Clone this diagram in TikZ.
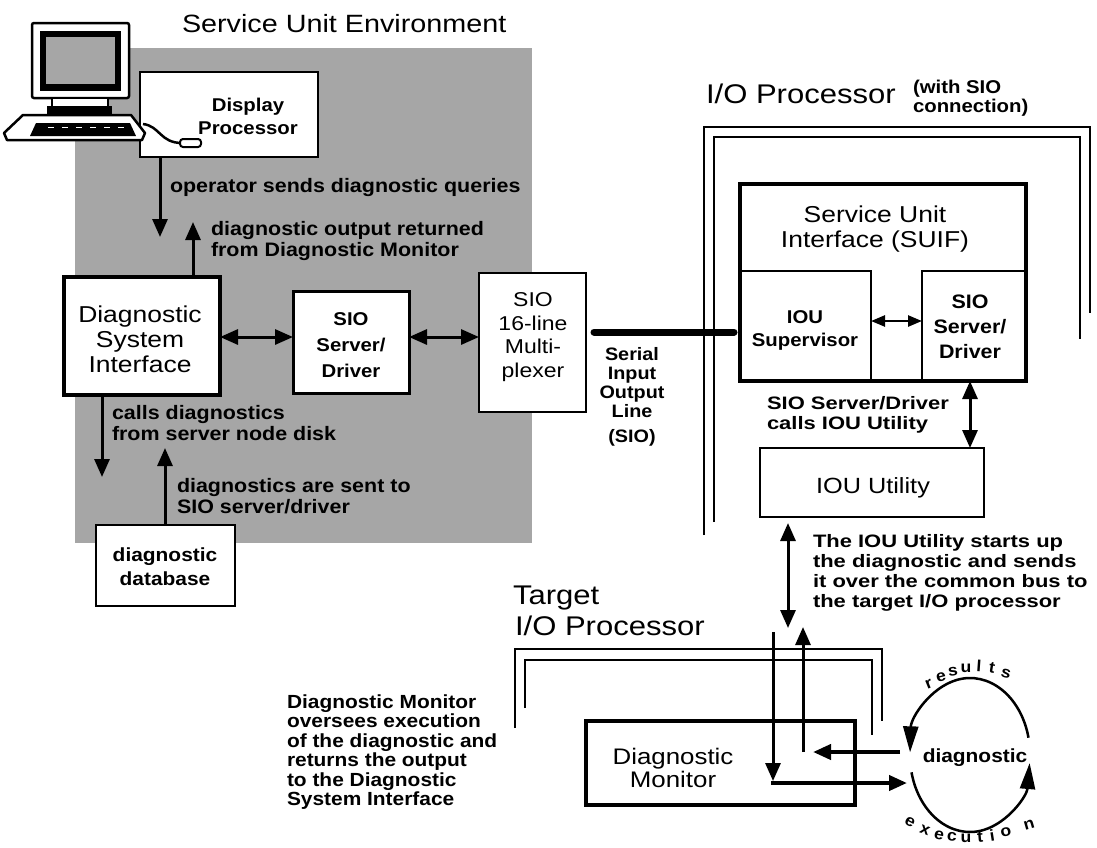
\documentclass[tikz,border=0pt]{standalone}
\usepackage{fontspec}
\setmainfont{Liberation Sans}
\newfontfamily\regfont[FakeStretch=1.15]{Liberation Sans}
\newfontfamily\bldfont[FakeStretch=1.1]{Liberation Sans}
\newfontfamily\wbldfont[FakeStretch=1.22]{Liberation Sans}
\usetikzlibrary{arrows.meta}
\newcommand\setfs[2]{\fontsize{#1pt}{#2pt}\selectfont}
\definecolor{dither}{gray}{0.65}

\tikzset{
  every node/.style={inner sep=0pt, outer sep=0pt},
  box/.style={draw, fill=white, line width=2.5pt},
  heavybox/.style={box, line width=4.5pt},
  regtxt/.style={font=\regfont\setfs{23}{25}, align=center},
  bldtxt/.style={font=\bldfont\bfseries\setfs{19}{23.5}, align=center},
  note/.style={font=\bldfont\bfseries\setfs{19.5}{20.5}, align=left, anchor=west},
  widenote/.style={font=\wbldfont\bfseries\setfs{18}{20}, align=left, anchor=west},
  onearrow/.style={line width=3pt, -{Triangle[length=18pt,width=15pt]}},
  twoarrow/.style={line width=3pt, {Triangle[length=18pt,width=15pt]}-{Triangle[length=18pt,width=15pt]}},
  smallarrow/.style={line width=2.5pt, {Triangle[length=14pt,width=11pt]}-{Triangle[length=14pt,width=11pt]}},
  wall/.style={line width=2.5pt, line join=miter},
  letter/.style={font=\bldfont\bfseries\setfs{16}{16}},
}

\begin{document}
\begin{tikzpicture}[x=1pt, y=-1pt]
\useasboundingbox (0,0) rectangle (1097,847);

% ---------- service unit environment (shaded) ----------
\fill[dither] (75,48) rectangle (532,543);
\node[font=\regfont\setfs{25}{25}, anchor=base west] (envtitle) at (182,32) {Service Unit Environment};

% workstation
\filldraw[fill=white, line width=2.5pt, rounded corners=2pt] (32,23) rectangle (129,98);
\fill[black] (40,31) rectangle (121,91);
\fill[dither] (46,37) rectangle (115,84);
\filldraw[fill=white, line width=2pt] (52,98) rectangle (108,107);
\fill[black] (47,106) rectangle (112,115);

\node[box, minimum width=178pt, minimum height=85pt] (disp) at (229,114.5) {};
\node[bldtxt, font=\bldfont\bfseries\setfs{18.5}{23}] (disp-t) at (248,116.5) {Display\\Processor};

\filldraw[fill=white, line width=2.5pt, line join=round] (23,115) -- (131,115) -- (145,133) -- (142,140) -- (7,140) -- (4,133) -- cycle;
\fill[black] (36,123) -- (130,123) -- (136,136) -- (30,136) -- cycle;
\foreach \kx in {48,62,76,90,104,118}
  \draw[white, line width=1pt] (\kx,127) -- (\kx+6,127);
\draw[line width=2.5pt] (143,124) .. controls (160,126) and (160,143) .. (182,143);
\filldraw[fill=white, line width=2pt, rounded corners=3pt] (180,139) rectangle (201,147);

% boxes in the service unit
\node[heavybox, minimum width=156pt, minimum height=118pt] (dsi) at (142,336) {};
\node[regtxt] (dsi-t) at (140,339) {Diagnostic\\System\\Interface};

\node[box, line width=3pt, minimum width=116pt, minimum height=102pt] (siol) at (351,342) {};
\node[bldtxt, font=\bldfont\bfseries\setfs{18.5}{26}] (siol-t) at (351,345) {SIO\\Server/\\Driver};

\node[box, minimum width=107pt, minimum height=139pt] (mux) at (532.5,342.5) {};
\node[regtxt, font=\regfont\setfs{20}{23.5}] (mux-t) at (533,337) {SIO\\16-line\\Multi-\\plexer};

\node[box, minimum width=139pt, minimum height=81pt] (db) at (165.5,565.5) {};
\node[bldtxt, font=\bldfont\bfseries\setfs{19}{24}] (db-t) at (165,567) {diagnostic\\database};

% arrows and notes in the service unit
\coordinate (qtip) at (160,237);
\coordinate (otip) at (193,222);
\coordinate (row) at (0,337);
\coordinate (ctip) at (102,477);
\coordinate (stip) at (165,448);
\draw[onearrow] (disp.south -| qtip) -- (qtip);
\draw[onearrow] (dsi.north -| otip) -- (otip);
\draw[twoarrow] (dsi.east |- row) -- (siol.west |- row);
\draw[twoarrow] (siol.east |- row) -- (mux.west |- row);
\draw[onearrow] (dsi.south -| ctip) -- (ctip);
\draw[onearrow] (db.north -| stip) -- (stip);

\node[note] (n-query) at (170,187) {operator sends diagnostic queries};
\node[note] (n-out) at (211,241) {diagnostic output returned\\from Diagnostic Monitor};
\node[note] (n-calls) at (112,423) {calls diagnostics\\from server node disk};
\node[note] (n-sent) at (177,496) {diagnostics are sent to\\SIO server/driver};

% ---------- I/O processor with SIO connection ----------
\node[font=\regfont\setfs{27}{27}, anchor=base west] (iotitle) at (706,103) {I/O Processor};
\node[note, font=\bldfont\bfseries\setfs{18.5}{19}] (iosub) at (913,98) {(with SIO\\connection)};
\draw[wall] (704,535) -- (704,127) -- (1090,127) -- (1090,313);
\draw[wall] (714,522) -- (714,137) -- (1080,137) -- (1080,339);

\node[heavybox, minimum width=286pt, minimum height=197pt] (suif) at (883,282.5) {};
\node[regtxt] (suif-t) at (875,229) {Service Unit\\Interface (SUIF)};
\node[box, minimum width=131pt, minimum height=110pt] (sup) at (805.5,326) {};
\node[box, minimum width=104pt, minimum height=110pt] (sior) at (974,326) {};
\draw[line width=4.5pt] (suif.south west) -- (suif.south east);
\draw[line width=4.5pt] (suif.north west) -- (suif.south west);
\draw[line width=4.5pt] (suif.north east) -- (suif.south east);
\node[bldtxt, font=\bldfont\bfseries\setfs{18.5}{23}] (sup-t) at (805,330) {IOU\\Supervisor};
\node[bldtxt, font=\bldfont\bfseries\setfs{19.5}{25}] (sior-t) at (970,327) {SIO\\Server/\\Driver};
\coordinate (row2) at (0,321);
\draw[smallarrow] (sup.east |- row2) -- (sior.west |- row2);

% serial line
\draw[line width=7pt, line cap=round] ([xshift=8pt]mux.east |- 0,332) -- ([xshift=-6pt]suif.west |- 0,332);
\node[bldtxt, font=\bldfont\bfseries\setfs{18}{19}] (serial-t) at (632,383) {Serial\\Input\\Output\\Line};
\node[bldtxt, font=\bldfont\bfseries\setfs{18}{19}] (sio-t) at (632,438) {(SIO)};

\node[box, minimum width=224pt, minimum height=69pt] (util) at (872,482.5) {};
\node[regtxt, font=\regfont\setfs{22}{22}] (util-t) at (873,488) {IOU Utility};
\coordinate (ucol) at (970,0);
\draw[twoarrow] (suif.south -| ucol) -- (util.north -| ucol);
\node[widenote] (n-util) at (767,415) {SIO Server/Driver\\calls IOU Utility};

\coordinate (bus) at (788,628);
\draw[twoarrow] ([yshift=-6pt]util.south -| bus) -- (bus);
\node[widenote] (n-bus) at (813,573) {The IOU Utility starts up\\the diagnostic and sends\\it over the common bus to\\the target I/O processor};

% ---------- target I/O processor ----------
\node[font=\regfont\setfs{27}{27}, anchor=base west] (tgt1) at (513,604) {Target};
\node[font=\regfont\setfs{27}{27}, anchor=base west] (tgt2) at (515,635) {I/O Processor};
\draw[wall] (515,728) -- (515,649) -- (882,649) -- (882,721);
\draw[wall] (525,708) -- (525,660) -- (872,660) -- (872,735);

\node[heavybox, line width=4pt, minimum width=269pt, minimum height=84pt] (mon) at (720.5,763) {};
\node[regtxt, font=\regfont\setfs{22.5}{23}] (mon-t) at (673,768) {Diagnostic\\Monitor};

\node[note, font=\bldfont\bfseries\setfs{19}{19.5}] (n-mon) at (287,752) {Diagnostic Monitor\\oversees execution\\of the diagnostic and\\returns the output\\to the Diagnostic\\System Interface};

\coordinate (dn0) at (773,632);
\coordinate (dn1) at (773,781);
\coordinate (rt0) at (771,783);
\coordinate (rt1) at (907,783);
\coordinate (up0) at (803,752);
\coordinate (up1) at (803,627);
\coordinate (lf0) at (900,752);
\coordinate (lf1) at (813,752);
\draw[onearrow] (dn0) -- (dn1);
\draw[onearrow, line width=4pt] (rt0) -- (rt1);
\draw[onearrow] (up0) -- (up1);
\draw[onearrow, line width=4pt] (lf0) -- (lf1);

% diagnostic cycle
\node[font=\bldfont\bfseries\setfs{19}{19}] (diag) at (975,758) {diagnostic};
\draw[line width=2.5pt, -{Triangle[length=26pt,width=15pt]}] (1028.5,737.7) arc[start angle=-13, end angle=-178, x radius=60, y radius=77];
\draw[line width=2.5pt, -{Triangle[length=26pt,width=15pt]}] (911.5,772.3) arc[start angle=167, end angle=6, x radius=60, y radius=77];

\node[letter, rotate=22] (r1) at (929,684) {r};
\node[letter, rotate=14] (r2) at (941,677) {e};
\node[letter, rotate=7] (r3) at (953,672) {s};
\node[letter] (r4) at (966,668) {u};
\node[letter, rotate=-4] (r5) at (979,666) {l};
\node[letter, rotate=-9] (r6) at (992,668) {t};
\node[letter, rotate=-15] (r7) at (1006,674) {s};
\node[letter, rotate=-28] (e1) at (910,822) {e};
\node[letter, rotate=-20] (e2) at (925,830) {x};
\node[letter, rotate=-12] (e3) at (939,835) {e};
\node[letter, rotate=-6] (e4) at (952,837) {c};
\node[letter] (e5) at (966,838) {u};
\node[letter, rotate=5] (e6) at (980,837) {t};
\node[letter, rotate=9] (e7) at (992,835) {i};
\node[letter, rotate=13] (e8) at (1006,832) {o};
\node[letter, rotate=16] (e9) at (1029,825) {n};
\end{tikzpicture}
\end{document}
